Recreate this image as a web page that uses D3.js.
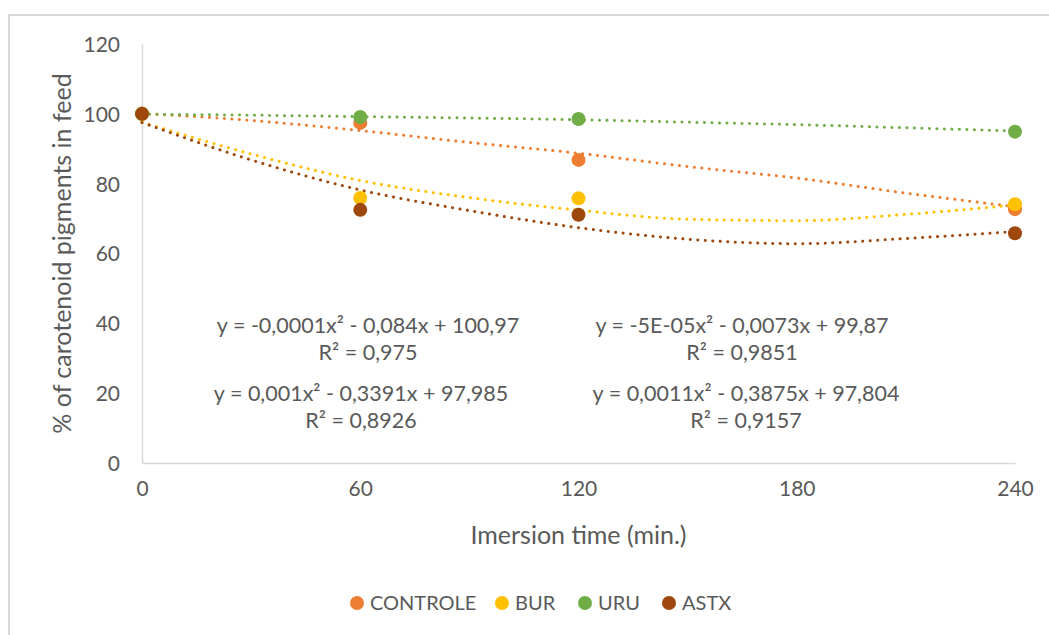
<!DOCTYPE html>
<html>
<head>
<meta charset="utf-8">
<script src="https://cdn.jsdelivr.net/npm/d3@7.9.0/dist/d3.min.js"></script>
<style>
  body { margin: 0; background: #fff; }
  svg { display: block; font-family: Lato, "Open Sans", sans-serif; }
</style>
</head>
<body>
<div id="chart"></div>
<script>
// measured points
const times = [0, 60, 120, 240];
const controle = [100, 97.4, 86.8, 72.7];
const bur = [100, 75.9, 75.8, 74.1];
const uru = [100, 99.1, 98.5, 94.9];
const astx = [100, 72.5, 71.1, 65.8];

// trendlines every 30 min
const trendTimes = [0, 30, 60, 90, 120, 150, 180, 210, 240];
const trendControle = [100.1, 98.1, 95.2, 91.8, 88.7, 84.9, 81.6, 77.3, 73.4];
const trendBur = [97.6, 88.5, 80.9, 76.0, 72.4, 69.8, 69.4, 71.2, 73.9];
const trendUru = [99.9, 99.6, 99.2, 98.8, 98.3, 97.6, 96.9, 96.0, 95.1];
const trendAstx = [97.5, 86.8, 78.2, 72.3, 67.4, 64.1, 62.8, 64.3, 66.3];

const seriesNames = ["CONTROLE", "BUR", "URU", "ASTX"];
const colors = ["#ED7D31", "#FFC000", "#70AD47", "#9E480E"];

const xTicks = [0, 60, 120, 180, 240];
const yTicks = [0, 20, 40, 60, 80, 100, 120];

const equations = [
    ["y = -0,0001x² - 0,084x + 100,97", "R² = 0,975"],
    ["y = 0,001x² - 0,3391x + 97,985", "R² = 0,8926"],
    ["y = -5E-05x² - 0,0073x + 99,87", "R² = 0,9851"],
    ["y = 0,0011x² - 0,3875x + 97,804", "R² = 0,9157"]
];

const width = 1049;
const height = 635;
const plot = { left: 142, right: 1015, top: 44, bottom: 463 };

const svg = d3.select('#chart')
    .append('svg')
    .attr('width', width)
    .attr('height', height);

// outer frame (only top and left visible)
svg.append("path")
    .attr("d", `M9,${height} L9,15 L${width},15`)
    .attr("fill", "none")
    .attr("stroke", "#d9d9d9")
    .attr("stroke-width", 2);

const xScale = d3.scaleLinear().domain([0, 240]).range([plot.left, plot.right]);
const yScale = d3.scaleLinear().domain([0, 120]).range([plot.bottom, plot.top]);

// axes
const xAxis = svg.append("g")
    .attr("transform", `translate(0,${plot.bottom})`)
    .call(d3.axisBottom(xScale).tickValues(xTicks).tickSize(0).tickPadding(26));
const yAxis = svg.append("g")
    .attr("transform", `translate(${plot.left},0)`)
    .call(d3.axisLeft(yScale).tickValues(yTicks).tickSize(0).tickPadding(22));

[xAxis, yAxis].forEach(ax => {
    ax.select(".domain").attr("stroke", "#d9d9d9").attr("stroke-width", 1.5);
    ax.selectAll("text")
        .attr("fill", "#595959")
        .style("font-size", "21px")
        .style("font-family", "Lato, 'Open Sans', sans-serif");
});
xAxis.selectAll("text").attr("dy", "0.35em");
yAxis.selectAll("text").attr("dy", "0.35em");

// axis titles
svg.append("text")
    .attr("text-anchor", "middle")
    .attr("x", (plot.left + plot.right) / 2)
    .attr("y", 535)
    .attr("dy", "0.35em")
    .attr("fill", "#595959")
    .style("font-size", "25px")
    .text("Imersion time (min.)");
svg.append("text")
    .attr("text-anchor", "middle")
    .attr("transform", `translate(62,${(plot.top + plot.bottom) / 2}) rotate(-90)`)
    .attr("dy", "0.35em")
    .attr("fill", "#595959")
    .style("font-size", "25px")
    .text("% of carotenoid pigments in feed");

// trendlines
const trends = [trendControle, trendBur, trendUru, trendAstx];
const trendLine = d3.line()
    .x(d => xScale(d[0]))
    .y(d => yScale(d[1]))
    .curve(d3.curveMonotoneX);

trends.forEach((t, i) => {
    svg.append("path")
        .datum(trendTimes.map((x, j) => [x, t[j]]))
        .attr("fill", "none")
        .attr("stroke", colors[i])
        .attr("stroke-width", 3)
        .attr("stroke-linecap", "round")
        .attr("stroke-dasharray", "0.1 7.4")
        .attr("d", trendLine);
});

// markers
const series = [controle, bur, uru, astx];
series.forEach((s, i) => {
    svg.append("g")
        .selectAll("circle")
        .data(times.map((x, j) => [x, s[j]]))
        .join("circle")
        .attr("cx", d => xScale(d[0]))
        .attr("cy", d => yScale(d[1]))
        .attr("r", 7)
        .attr("fill", colors[i]);
});

// trendline equations
const eqPos = [[368, 325], [361, 393], [742, 325], [746, 393]];
equations.forEach((eq, i) => {
    const g = svg.append("g")
        .attr("transform", `translate(${eqPos[i][0]},${eqPos[i][1]})`)
        .attr("fill", "#595959")
        .style("font-size", "21.5px")
        .attr("text-anchor", "middle");
    g.append("text").attr("dy", "0.35em").text(eq[0]);
    g.append("text").attr("y", 27).attr("dy", "0.35em").text(eq[1]);
});

// legend
const legendX = [357, 502, 585, 669];
const legend = svg.append("g").attr("transform", "translate(0,603)");
seriesNames.forEach((name, i) => {
    legend.append("circle")
        .attr("cx", legendX[i])
        .attr("cy", 0)
        .attr("r", 7)
        .attr("fill", colors[i]);
    legend.append("text")
        .attr("x", legendX[i] + 13)
        .attr("dy", "0.35em")
        .attr("fill", "#595959")
        .style("font-size", "20px")
        .text(name);
});
</script>
</body>
</html>
